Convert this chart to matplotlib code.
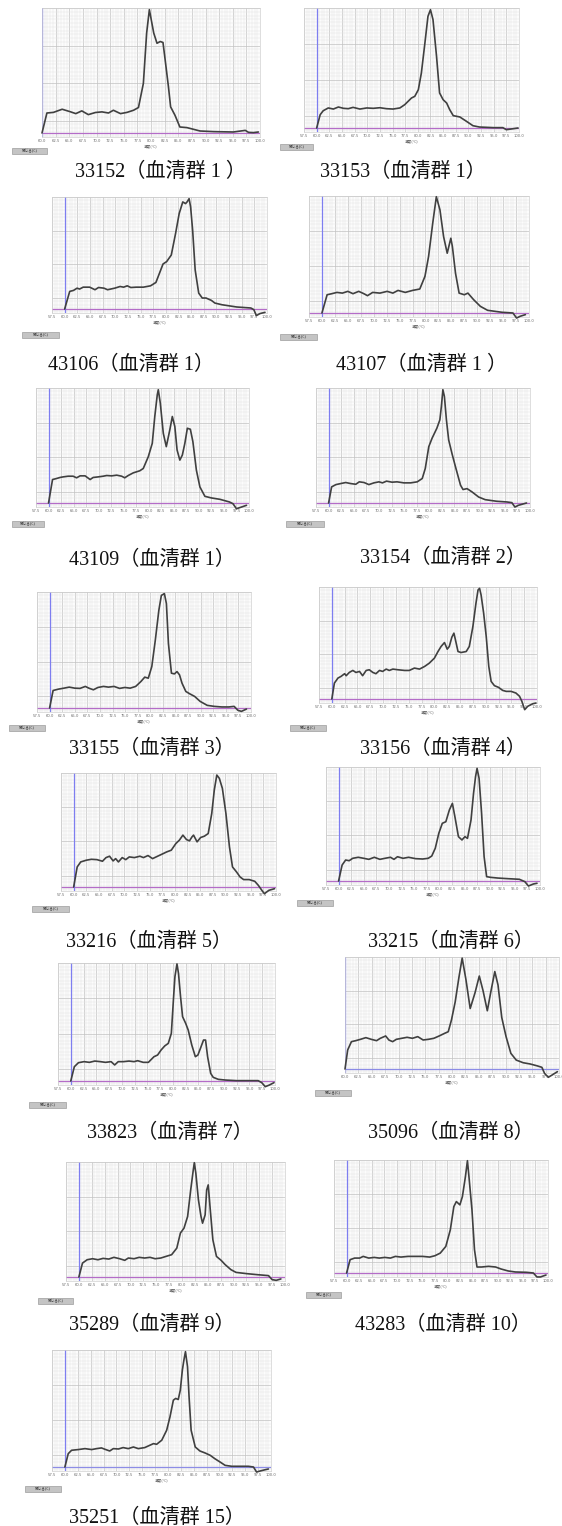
import numpy as np
import matplotlib
matplotlib.use("Agg")
import matplotlib.pyplot as plt
from matplotlib.patches import Rectangle

# ---------------- data (temperature °C, relative -dF/dT) ----------------
labels = ["33152（血清群 1 ）", "33153（血清群 1）", "43106（血清群 1）", "43107（血清群 1 ）",
          "43109（血清群 1）", "33154（血清群 2）", "33155（血清群 3）", "33156（血清群 4）",
          "33216（血清群 5）", "33215（血清群 6）", "33823（血清群 7）", "35096（血清群 8）",
          "35289（血清群 9）", "43283（血清群 10）", "35251（血清群 15）"]

t_33152 = [60.0, 60.9, 62.1, 63.7, 65.2, 66.2, 67.3, 68.5, 69.8, 71.0, 72.2, 73.1, 74.4, 75.6, 76.8, 77.7, 78.6, 79.2,
           79.7, 80.5, 81.1, 81.7, 82.2, 82.6, 83.2, 83.6, 84.4, 85.3, 86.6, 89.0, 91.5, 95.1, 97.3, 97.9, 98.8, 99.7]
y_33152 = [0, 16, 16.5, 19, 17, 15.5, 17.7, 14.7, 16.4, 16.9, 16, 18.2, 15.5, 16.5, 18.2, 20.4, 39.7, 79.9,
           98.7, 80, 71.8, 73.2, 72.4, 58.4, 37, 20.9, 14.2, 4.8, 4.3, 1.6, 1.1, 0.8, 2.1, 0.5, 0.3, 0.8]

t_33153 = [60.0, 60.7, 61.3, 62.3, 63.3, 64.3, 65.3, 66.25, 67.2, 68.55, 69.9, 71.2, 72.5, 73.8, 75.1, 76.45, 77.4,
           78.75, 79.4, 80.1, 80.7, 81.4, 82.0, 82.5, 83.0, 83.7, 84.3, 85.0, 85.7, 86.3, 87.0, 88.3, 89.6, 90.9,
           92.2, 94.9, 96.8, 97.5, 98.5, 99.8]
y_33153 = [0, 11.1, 14.4, 16.7, 15.8, 17.5, 16.4, 16.1, 17.2, 15.8, 16.7, 16.4, 16.9, 16.1, 15.8, 16.7, 19.4,
           25, 26.4, 31.9, 45.8, 70.8, 93, 98.6, 90.3, 59.7, 29.2, 23.6, 20.8, 15.3, 10.3, 9.2, 5.6, 1.9,
           0.8, 0.3, 0.3, -1.4, -0.8, 0]

t_43106 = [60.0, 61.0, 61.75, 62.46, 62.95, 63.66, 64.94, 66.0, 66.7, 67.77, 68.48, 69.9, 70.96, 71.66, 72.37, 73.08,
           74.14, 75.56, 76.98, 78.04, 78.75, 79.45, 80.16, 81.08, 81.93, 82.64, 83.35, 83.9, 84.2, 84.6, 84.9, 85.3,
           85.8, 86.5, 87.2, 87.95, 89.0, 89.7, 91.1, 94.0, 96.8, 97.4, 97.9, 98.6, 99.6]
y_43106 = [0, 15.7, 16.6, 18.6, 17.8, 19.5, 19.5, 17.2, 19.2, 18.6, 17.2, 18.6, 20.1, 19.5, 20.7, 19.2,
           19.5, 19.5, 20.7, 23.7, 32.0, 40.2, 42.3, 48.2, 67.5, 85.2, 95.6, 94.1, 95.6, 98.5, 91.1, 70.4,
           34.9, 14.2, 9.8, 9.8, 7.7, 5.3, 3.8, 1.8, 0.9, -0.6, -5.9, -4.1, -3.0]

t_43107 = [60.0, 61.0, 61.9, 62.9, 63.95, 65.0, 66.0, 67.1, 68.1, 68.8, 69.8, 71.2, 72.6, 73.7, 74.7, 76.1, 77.5,
           78.9, 79.9, 80.6, 81.4, 82.1, 82.8, 83.5, 84.2, 84.9, 85.2, 85.8, 86.5, 87.5, 88.2, 89.3, 90.6, 92.0,
           94.8, 96.9, 97.6, 98.3, 99.3]
y_43107 = [0, 15.6, 16.5, 17.6, 17.0, 18.5, 16.5, 18.5, 16.5, 14.8, 17.6, 17.0, 18.5, 17.0, 19.3, 17.6, 19.3,
           20.5, 31.3, 48.3, 76.7, 99.4, 88.1, 65.3, 51.1, 63.9, 56.8, 34.1, 17.0, 15.6, 17.0, 11.4, 5.7, 2.3,
           0.6, 0, -4.3, -2.8, -1.4]

t_43109 = [60.0, 60.8, 61.6, 62.3, 62.9, 63.9, 64.9, 65.6, 66.3, 67.3, 68.3, 68.9, 69.9, 70.9, 71.6, 72.6, 73.6,
           74.6, 75.2, 75.9, 76.9, 78.2, 78.9, 79.9, 80.7, 81.2, 81.7, 81.9, 82.3, 82.9, 83.5, 84.2, 84.7, 85.2,
           85.65, 86.2, 86.7, 87.2, 87.7, 88.3, 88.8, 89.5, 90.2, 91.2, 92.5, 94.2, 96.1, 96.8, 97.5, 98.5, 99.5]
y_43109 = [0, 20.4, 21.3, 22.2, 22.7, 23.3, 23.3, 21.9, 23.6, 23.6, 20.4, 22.2, 22.7, 23.3, 23.9, 23.6, 24.2,
           23.3, 21.9, 23.9, 26.2, 28.0, 30.0, 40.2, 51.9, 75.2, 94.2, 98.5, 86.9, 60.6, 49.0, 63.6, 75.2, 66.5,
           46.1, 37.3, 41.7, 51.9, 65.0, 64.1, 53.4, 28.6, 14.0, 5.8, 4.4, 3.2, 0.9, -0.6, -5.0, -3.5, -2.0]

t_33154 = [60.0, 60.6, 61.45, 62.4, 63.4, 64.4, 65.4, 66.1, 67.05, 68.0, 69.0, 70.0, 70.7, 71.5, 72.6, 73.6, 74.95,
           76.3, 77.6, 78.6, 79.2, 79.9, 80.55, 81.5, 82.1, 82.4, 82.7, 83.0, 83.4, 83.85, 84.5, 85.2, 86.2, 86.7,
           87.5, 88.5, 89.8, 91.1, 93.4, 95.4, 96.4, 97.0, 97.7, 99.3]
y_33154 = [0, 14.0, 16.0, 16.9, 17.8, 16.9, 16.3, 18.4, 17.8, 16.0, 17.5, 18.4, 17.5, 19.0, 18.1, 18.4, 17.5,
           17.5, 18.4, 21.3, 30.0, 49.0, 56.3, 65.0, 72.3, 84.0, 98.5, 92.7, 72.3, 54.8, 43.1, 31.5, 15.5, 11.7,
           12.5, 9.6, 5.2, 2.9, 1.5, 0.9, 0.3, -3.5, -2.0, 0]

t_33155 = [60.0, 60.7, 61.8, 62.85, 63.9, 65.0, 66.05, 67.1, 67.8, 68.7, 69.6, 70.7, 71.7, 72.8, 73.9, 74.95, 76.0,
           77.1, 78.15, 78.9, 79.6, 80.3, 81.0, 81.7, 82.2, 82.8, 83.2, 83.6, 84.2, 84.8, 85.3, 85.8, 86.3, 87.05,
           87.8, 88.8, 89.9, 91.3, 92.7, 94.2, 95.6, 96.65, 97.4, 98.1, 99.1]
y_33155 = [0, 15.1, 16.3, 17.1, 18.0, 17.1, 16.9, 18.6, 17.1, 15.7, 17.7, 18.6, 18.0, 18.6, 16.9, 17.7, 17.1,
           18.6, 22.9, 26.6, 25.7, 35.7, 58.6, 84.3, 97.1, 98.6, 90.0, 55.7, 30.0, 29.4, 31.4, 28.6, 21.4, 14.3,
           12.3, 10.0, 5.7, 2.3, 1.4, 0.9, 0.9, 1.4, -2.0, -2.9, -0.9]

t_33156 = [60.0, 60.5, 61.2, 61.8, 62.5, 62.8, 63.4, 64.1, 64.7, 65.4, 66.0, 66.7, 67.3, 68.0, 68.6, 69.3, 69.9,
           70.6, 71.2, 71.9, 72.9, 74.2, 75.1, 76.1, 77.1, 78.1, 79.0, 80.0, 80.7, 81.3, 81.96, 82.5, 82.9, 83.4,
           83.8, 84.1, 84.6, 85.2, 86.2, 86.8, 87.5, 88.1, 88.5, 88.8, 89.1, 89.6, 90.1, 90.6, 91.06, 91.7, 92.5,
           93.3, 94.0, 94.96, 95.9, 96.6, 97.05, 97.6, 98.2, 99.2, 99.8]
y_33156 = [0, 14.2, 18.7, 20.2, 22.6, 20.8, 23.7, 25.5, 23.7, 24.6, 20.8, 25.5, 26.1, 23.7, 22.6, 25.5, 24.6,
           26.7, 25.5, 26.7, 26.1, 25.5, 25.5, 27.6, 26.7, 29.1, 32.0, 36.5, 42.4, 46.9, 50.4, 44.5, 46.9, 55.2,
           58.8, 52.8, 42.4, 41.5, 42.4, 46.9, 64.7, 85.5, 97.3, 98.8, 92.9, 76.6, 55.8, 29.1, 15.7, 11.9, 10.4,
           7.7, 6.8, 6.8, 5.3, 2.4, -2.1, -9.5, -6.5, -4.2, -3.6]

t_33216 = [60.0, 60.7, 61.4, 62.5, 63.5, 64.6, 65.7, 66.4, 67.1, 67.8, 68.3, 68.85, 69.6, 70.3, 71.0, 72.0, 73.1,
           73.8, 74.7, 75.6, 76.6, 77.7, 78.4, 79.3, 80.2, 80.9, 81.6, 82.3, 82.9, 83.4, 83.7, 84.4, 85.1, 85.85,
           86.6, 87.3, 87.8, 88.3, 88.8, 89.4, 90.1, 90.8, 91.4, 92.2, 92.9, 93.6, 94.7, 95.8, 96.5, 97.2, 97.7,
           98.6, 99.7]
y_33216 = [0, 17.6, 22.0, 23.5, 24.3, 24.0, 22.6, 25.8, 27.0, 22.9, 24.9, 22.0, 25.8, 24.0, 26.4, 25.8, 27.0,
           25.8, 27.6, 24.9, 27.0, 29.3, 30.8, 32.3, 38.1, 41.1, 45.5, 41.6, 40.5, 44.0, 45.5, 39.6, 43.4, 44.6,
           46.9, 64.5, 85.0, 98.2, 95.3, 86.5, 64.5, 35.2, 17.6, 13.2, 8.8, 6.5, 6.5, 5.0, 1.5, -2.9, -5.9,
           -2.9, -1.5]

t_33215 = [60.0, 60.7, 61.4, 62.1, 62.8, 63.9, 65.0, 66.0, 67.1, 68.2, 69.2, 70.3, 71.0, 71.7, 72.8, 73.9, 75.3,
           76.7, 77.8, 78.5, 79.2, 79.9, 80.6, 81.3, 82.0, 82.6, 83.1, 83.8, 84.5, 85.1, 85.6, 86.3, 86.8, 87.2,
           87.5, 87.9, 88.4, 88.9, 89.4, 90.2, 91.6, 93.8, 95.9, 97.0, 97.7, 98.7, 99.4]
y_33215 = [0, 14.0, 18.4, 17.8, 19.9, 20.8, 19.9, 19.0, 20.8, 19.0, 19.9, 20.8, 19.0, 21.3, 19.9, 20.8, 19.6,
           19.3, 19.9, 21.9, 28.7, 41.8, 50.6, 52.0, 62.3, 68.1, 56.4, 38.9, 36.0, 38.9, 37.4, 53.5, 76.9, 91.5,
           98.8, 90.1, 59.4, 21.3, 3.8, 3.2, 2.6, 2.0, 1.5, -0.6, -4.4, -2.6, -2.0]

t_33823 = [60.0, 60.7, 61.5, 62.6, 63.65, 64.7, 65.8, 66.8, 67.9, 68.6, 69.3, 70.3, 71.4, 72.4, 73.1, 74.2, 75.2,
           76.3, 77.0, 77.7, 78.4, 79.1, 79.7, 80.1, 80.4, 80.8, 81.1, 81.5, 81.9, 82.5, 83.0, 83.7, 84.4, 84.9,
           85.4, 86.0, 86.4, 86.8, 87.4, 87.9, 88.9, 90.3, 92.4, 95.25, 96.7, 97.4, 98.1, 98.9, 99.8]
y_33823 = [0, 12.1, 15.5, 16.4, 15.8, 16.9, 16.4, 15.8, 16.4, 13.6, 16.4, 16.4, 16.9, 16.4, 17.2, 15.8, 15.8,
           20.6, 22.0, 26.3, 29.7, 31.9, 40.4, 68.6, 88.4, 99.2, 91.2, 71.5, 54.5, 48.9, 43.2, 30.5, 20.6, 22.0,
           27.7, 34.7, 34.7, 20.6, 6.5, 3.1, 1.4, 0.8, 0.3, 0.3, 0.3, -1.4, -4.8, -3.4, -1.4]

t_35096 = [60.0, 60.5, 61.2, 62.0, 62.9, 63.9, 64.9, 65.9, 66.6, 67.6, 68.2, 68.9, 69.6, 70.6, 71.6, 72.6, 73.6,
           74.6, 75.6, 76.6, 77.6, 78.6, 79.3, 79.9, 80.6, 81.3, 81.9, 82.6, 83.4, 84.3, 85.1, 85.8, 86.6, 87.3,
           88.0, 88.6, 89.3, 90.1, 91.0, 92.0, 93.3, 94.6, 96.0, 96.8, 97.3, 98.0, 98.7, 99.7]
y_35096 = [0, 17, 24.4, 25.3, 26.5, 28, 26.5, 25.3, 27.4, 29.5, 25.9, 24.4, 26.5, 27.4, 28.3, 27.4, 28.9,
           25.9, 26.5, 27.4, 29.5, 31.8, 33.3, 43.8, 60, 82, 99, 80, 54, 68, 83, 70, 52, 70,
           87, 75, 46, 29, 14, 8, 5.6, 4.5, 2.7, 1.5, -3.9, -7.4, -5.4, -2.4]

t_35289 = [60.0, 60.7, 61.6, 62.65, 63.7, 64.7, 65.8, 66.8, 67.9, 68.9, 69.6, 70.7, 71.7, 72.75, 73.8, 74.8, 75.9,
           76.9, 78.0, 79.0, 79.7, 80.4, 81.1, 81.7, 82.2, 82.4, 82.7, 83.2, 83.7, 84.0, 84.5, 84.8, 85.1, 85.5,
           86.0, 86.7, 87.6, 88.4, 89.5, 90.5, 92.6, 94.7, 96.8, 97.5, 98.3, 99.2]
y_35289 = [0, 12.1, 15.0, 15.9, 15.0, 16.2, 15.6, 17.1, 15.9, 14.5, 16.5, 15.9, 17.1, 16.5, 17.1, 15.9, 16.5,
           17.9, 19.4, 25.1, 38.2, 42.5, 52.6, 75.7, 93.1, 99.4, 90.2, 67.1, 52.6, 46.8, 54.0, 75.7, 80.1, 58.4,
           32.4, 17.9, 14.5, 10.7, 6.4, 4.0, 2.9, 2.0, 1.2, -2.3, -2.9, -1.7]

t_43283 = [60.0, 60.7, 61.6, 62.6, 63.3, 64.4, 65.5, 66.5, 67.6, 68.7, 69.7, 70.8, 72.2, 73.6, 75.1, 76.5, 77.55,
           78.6, 79.7, 80.6, 81.3, 81.8, 82.5, 83.0, 83.6, 84.0, 84.3, 84.9, 85.4, 85.9, 86.8, 88.2, 89.6, 90.7,
           92.1, 93.5, 95.7, 97.1, 97.8, 98.5, 99.6]
y_43283 = [0, 11.8, 13.2, 13.2, 14.7, 13.2, 13.8, 13.2, 13.8, 13.2, 14.7, 14.1, 14.7, 14.7, 14.7, 14.1, 15.3,
           17.6, 23.5, 38.2, 58.8, 63.2, 60.3, 67.6, 85.3, 99.4, 85.3, 55.9, 20.6, 5.3, 5.3, 5.9, 5.3, 3.5,
           1.8, 0.9, 0.6, 0, -3.5, -3.5, -1.8]

t_35251 = [60.0, 60.65, 61.3, 62.6, 63.9, 65.2, 66.15, 67.1, 67.8, 68.7, 69.4, 70.4, 71.3, 72.3, 73.3, 74.25, 75.5,
           76.5, 77.2, 77.8, 78.8, 79.75, 80.4, 81.05, 81.5, 82.0, 82.4, 82.8, 83.1, 83.4, 83.8, 84.1, 84.5, 85.3,
           86.2, 87.2, 88.2, 89.1, 90.1, 91.1, 92.4, 94.3, 95.6, 96.6, 97.2, 97.9, 98.9, 99.5]
y_35251 = [0, 11.4, 14.3, 14.9, 15.7, 14.9, 15.7, 16.3, 15.1, 13.7, 15.7, 15.4, 16.6, 15.7, 17.1, 15.7, 16.6,
           18.6, 20.0, 19.4, 22.9, 31.4, 42.9, 57.1, 58.6, 57.7, 65.7, 82.9, 91.4, 98.6, 85.7, 60.0, 31.4, 17.1,
           13.7, 12.0, 10.0, 7.1, 4.3, 1.4, 0.6, 0.6, 0.6, 0, -4.3, -3.4, -2.3, -1.7]

series = [(t_33152, y_33152), (t_33153, y_33153), (t_43106, y_43106), (t_43107, y_43107),
          (t_43109, y_43109), (t_33154, y_33154), (t_33155, y_33155), (t_33156, y_33156),
          (t_33216, y_33216), (t_33215, y_33215), (t_33823, y_33823), (t_35096, y_35096),
          (t_35289, y_35289), (t_43283, y_43283), (t_35251, y_35251)]
x_start = [60.0, 57.5, 57.5, 57.5, 57.5, 57.5, 57.5, 57.5, 57.5, 57.5, 57.5, 60.0, 57.5, 57.5, 57.5]
x_end = 100.0
x_label = "温度(°C)"
button_text = "閉じる(C)"

# ---------------- layout (pixels, top-left origin) ----------------
W, H = 562, 1526
# left, right, top, baseline, button(x0,y0,w,h), caption(cx,cy)
layout = [
    (42, 260, 8, 133, (12, 148, 35, 6), (160, 172)),
    (304, 519, 8, 128, (280, 144, 33, 6), (403, 172)),
    (52, 267, 197, 309, (22, 332, 37, 6), (131, 365)),
    (309, 529, 196, 313, (280, 334, 37, 6), (422, 365)),
    (36, 249, 388, 503, (12, 521, 32, 6), (152, 560)),
    (316, 530, 388, 503, (286, 521, 38, 6), (443, 558)),
    (37, 251, 592, 708, (9, 725, 36, 6), (152, 749)),
    (319, 537, 587, 699, (290, 725, 36, 6), (443, 749)),
    (61, 276, 773, 887, (32, 906, 37, 6), (149, 942)),
    (326, 540, 767, 881, (297, 900, 36, 6), (451, 942)),
    (58, 275, 963, 1081, (29, 1102, 37, 6), (170, 1133)),
    (345, 559, 957, 1069, (315, 1090, 36, 6), (451, 1133)),
    (66, 285, 1162, 1277, (38, 1298, 35, 6), (152, 1325)),
    (334, 548, 1160, 1273, (306, 1292, 35, 6), (443, 1325)),
    (52, 271, 1350, 1467, (25, 1486, 36, 6), (157, 1518)),
]
below_px = 4

fig = plt.figure(figsize=(W / 100, H / 100), dpi=100)
fig.patch.set_facecolor("white")

cjk = ["Noto Sans CJK JP", "DejaVu Sans"]
serif = ["Liberation Serif", "Noto Sans CJK JP"]

for i, (lay, (tt, yy)) in enumerate(zip(layout, series)):
    L, R, top, base, btn, cap = lay
    h_plot = base - top
    ax = fig.add_axes([L / W, 1 - (base + below_px) / H, (R - L) / W, (base + below_px - top) / H])
    x0 = x_start[i]
    ax.set_xlim(x0, x_end)
    ax.set_ylim(-100.0 * below_px / h_plot, 100)
    ax.set_facecolor("#fcfcfc")
    # grid
    ax.set_xticks(np.arange(x0, x_end + 0.01, 2.5))
    ax.set_xticks(np.arange(x0, x_end + 0.01, 0.5), minor=True)
    ax.set_yticks([10, 40, 70, 100])
    ax.set_yticks(np.arange(-2, 100, 3), minor=True)
    ax.grid(which="major", color="#c2c2c2", lw=0.5)
    ax.grid(which="minor", color="#e4e4e4", lw=0.35)
    ax.set_axisbelow(True)
    ax.set_xticklabels([f"{v:.1f}" for v in np.arange(x0, x_end + 0.01, 2.5)],
                       fontsize=2.7, color="#6a6a6a")
    ax.tick_params(axis="x", which="both", length=0, pad=1.5)
    ax.tick_params(axis="y", which="both", length=0, labelleft=False)
    ax.set_xlabel(x_label, fontsize=2.6, color="#666666", labelpad=0.5, family=cjk)
    for sp in ax.spines.values():
        sp.set_color("#d0d0d0")
        sp.set_linewidth(0.5)
    # baseline and start marker
    base_col = "#8c8ce6" if i in (11, 14) else "#b46cc8"
    ax.axhline(0, color=base_col, lw=0.9, zorder=2)
    ax.axvline(60.0, ymin=0, ymax=1, color="#7e7ef0", lw=0.9, zorder=2)
    # curve
    ax.plot(tt, yy, color="#404040", lw=1.2, clip_on=False, zorder=3,
            solid_joinstyle="round", solid_capstyle="round")
    # button
    bx, by, bw, bh = btn
    fig.patches.append(Rectangle((bx / W, 1 - (by + bh) / H), bw / W, bh / H,
                                 transform=fig.transFigure, facecolor="#c4c4c4",
                                 edgecolor="#8c8c8c", lw=0.4))
    fig.text((bx + bw / 2) / W, 1 - (by + bh / 2) / H, button_text, fontsize=2.6,
             color="#333333", ha="center", va="center", family=cjk)
    # caption
    cx, cy = cap
    fig.text(cx / W, 1 - cy / H, labels[i], fontsize=14.5, ha="center", va="center",
             family=serif, color="#111111")

fig.savefig("out.png", dpi=100, facecolor="white")
